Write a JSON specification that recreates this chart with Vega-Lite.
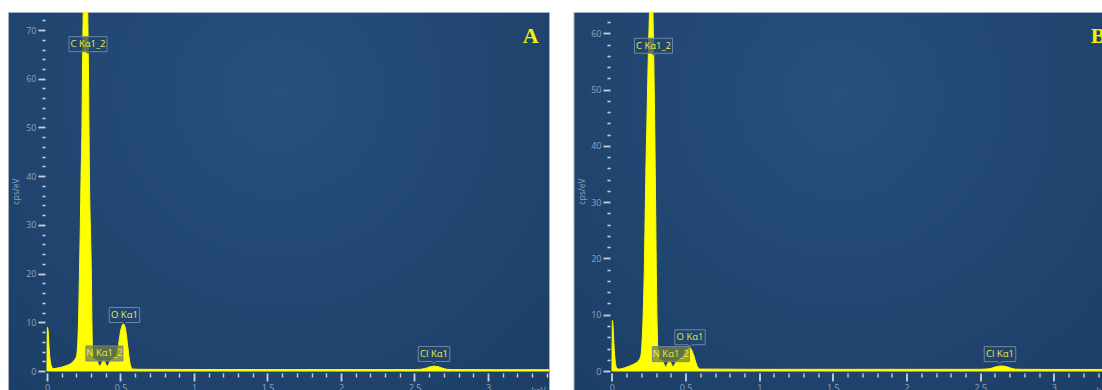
{
  "$schema": "https://vega.github.io/schema/vega-lite/v6.json",
  "background": "white",
  "padding": {"left": 7, "top": 11, "right": 0, "bottom": 0},
  "spacing": 22.5,
  "datasets": {
    "specA": [
      {"e":0,"c":0},{"e":0.003,"c":9.0},{"e":0.008,"c":8.3},{"e":0.014,"c":5},{"e":0.022,"c":2.2},{"e":0.032,"c":0.9},{"e":0.045,"c":0.5},{"e":0.07,"c":0.6},{"e":0.1,"c":0.8},{"e":0.13,"c":1.1},{"e":0.16,"c":1.5},{"e":0.185,"c":2.2},{"e":0.2,"c":3},{"e":0.21,"c":6},{"e":0.216,"c":12},{"e":0.221,"c":20},{"e":0.227,"c":30},{"e":0.232,"c":40},{"e":0.238,"c":50},{"e":0.241,"c":60},{"e":0.245,"c":70},{"e":0.251,"c":82},{"e":0.262,"c":92},{"e":0.273,"c":82},{"e":0.279,"c":70},{"e":0.283,"c":60},{"e":0.286,"c":50},{"e":0.289,"c":40},{"e":0.295,"c":30},{"e":0.302,"c":20},{"e":0.306,"c":10},{"e":0.31,"c":4},{"e":0.318,"c":2.4},{"e":0.335,"c":2.3},{"e":0.36,"c":1.0},{"e":0.385,"c":2.2},{"e":0.41,"c":1.0},{"e":0.435,"c":2.2},{"e":0.455,"c":2.5},{"e":0.47,"c":3},{"e":0.48,"c":4},{"e":0.49,"c":6},{"e":0.5,"c":8},{"e":0.512,"c":9.4},{"e":0.52,"c":9.7},{"e":0.53,"c":9.2},{"e":0.54,"c":7.5},{"e":0.55,"c":5},{"e":0.56,"c":2.5},{"e":0.57,"c":1},{"e":0.585,"c":0.4},{"e":0.62,"c":0.35},{"e":1,"c":0.32},{"e":1.5,"c":0.3},{"e":2,"c":0.3},{"e":2.5,"c":0.3},{"e":2.54,"c":0.35},{"e":2.57,"c":0.5},{"e":2.6,"c":0.8},{"e":2.63,"c":1.0},{"e":2.66,"c":0.9},{"e":2.69,"c":0.6},{"e":2.72,"c":0.35},{"e":2.76,"c":0.3},{"e":3,"c":0.28},{"e":3.42,"c":0.28}
    ],
    "specB": [
      {"e":0,"c":0},{"e":0.003,"c":9.0},{"e":0.008,"c":7.8},{"e":0.014,"c":4.5},{"e":0.022,"c":1.8},{"e":0.032,"c":0.6},{"e":0.045,"c":0.35},{"e":0.07,"c":0.45},{"e":0.1,"c":0.7},{"e":0.13,"c":1.0},{"e":0.16,"c":1.4},{"e":0.185,"c":2},{"e":0.198,"c":3},{"e":0.206,"c":6},{"e":0.212,"c":10},{"e":0.218,"c":16},{"e":0.224,"c":25},{"e":0.23,"c":35},{"e":0.238,"c":45},{"e":0.246,"c":55},{"e":0.253,"c":62},{"e":0.26,"c":68},{"e":0.267,"c":70},{"e":0.274,"c":68},{"e":0.281,"c":60},{"e":0.287,"c":50},{"e":0.292,"c":40},{"e":0.297,"c":28},{"e":0.302,"c":16},{"e":0.307,"c":8},{"e":0.313,"c":3},{"e":0.322,"c":2.0},{"e":0.34,"c":1.9},{"e":0.365,"c":0.8},{"e":0.39,"c":1.8},{"e":0.415,"c":0.8},{"e":0.44,"c":1.8},{"e":0.46,"c":2.0},{"e":0.48,"c":2.6},{"e":0.5,"c":3.4},{"e":0.515,"c":4},{"e":0.527,"c":4.2},{"e":0.54,"c":3.8},{"e":0.555,"c":2.8},{"e":0.57,"c":1.5},{"e":0.585,"c":0.6},{"e":0.6,"c":0.35},{"e":1,"c":0.3},{"e":1.5,"c":0.3},{"e":2,"c":0.3},{"e":2.5,"c":0.3},{"e":2.54,"c":0.35},{"e":2.57,"c":0.45},{"e":2.6,"c":0.7},{"e":2.643,"c":0.9},{"e":2.68,"c":0.75},{"e":2.71,"c":0.5},{"e":2.74,"c":0.33},{"e":2.78,"c":0.3},{"e":3,"c":0.28},{"e":3.35,"c":0.28}
    ],
    "labA": [
      {"label":"C Kα1_2","e":0.279,"c":67.1},{"label":"O Kα1","e":0.527,"c":11.5},{"label":"N Kα1_2","e":0.391,"c":3.6},{"label":"Cl Kα1","e":2.633,"c":3.5}
    ],
    "labB": [
      {"label":"C Kα1_2","e":0.282,"c":57.8},{"label":"O Kα1","e":0.53,"c":6.0},{"label":"N Kα1_2","e":0.40,"c":3.0},{"label":"Cl Kα1","e":2.634,"c":3.0}
    ],
    "letA": [{"t":"A","e":3.29,"c":68.8}],
    "letB": [{"t":"B","e":3.30,"c":59.5}]
  },
  "config": {
    "view": {
      "fill": {"gradient":"radial","x1":0.5,"y1":0.3,"r1":0,"x2":0.5,"y2":0.3,"r2":0.75,"stops":[{"offset":0,"color":"#27507d"},{"offset":1,"color":"#1c3e66"}]},
      "stroke": "#a3b0c2",
      "strokeWidth": 1
    },
    "axis": {
      "labelFont": "Open Sans",
      "labelFontSize": 9,
      "labelColor": "#8ea3bf",
      "tickColor": "#c5d1e0",
      "domain": false,
      "grid": false,
      "labelOverlap": false,
      "labelFlush": false,
      "titleFont": "Open Sans",
      "titleFontSize": 8.5,
      "titleFontWeight": "normal",
      "titleColor": "#8ea3bf"
    }
  },
  "hconcat": [
    {
      "width": 541,
      "height": 379,
      "encoding": {
        "x": {"field": "e", "type": "quantitative",
          "scale": {"domain": [-0.265, 3.415], "nice": false, "zero": false},
          "axis": {
            "values": [0,0.1,0.2,0.3,0.4,0.5,0.6,0.7,0.8,0.9,1,1.1,1.2,1.3,1.4,1.5,1.6,1.7,1.8,1.9,2,2.1,2.2,2.3,2.4,2.5,2.6,2.7,2.8,2.9,3,3.1,3.2,3.3,3.4],
            "format": "~g",
            "labelExpr": "abs(datum.value*2 - round(datum.value*2)) < 0.001 ? datum.label : ''",
            "tickSize": {"condition": {"test": "abs(datum.value*2 - round(datum.value*2)) < 0.001", "value": 8}, "value": 4},
            "tickWidth": {"condition": {"test": "abs(datum.value*2 - round(datum.value*2)) < 0.001", "value": 1.8}, "value": 1.4},
            "labelPadding": 2,
            "offset": -18,
            "title": "keV",
            "titleX": 523, "titleY": 13, "titleAlign": "left", "titleBaseline": "top"
          }},
        "y": {"field": "c", "type": "quantitative",
          "scale": {"domain": [-4.1, 73.7], "nice": false, "zero": false},
          "axis": {
            "values": [0,2,4,6,8,10,12,14,16,18,20,22,24,26,28,30,32,34,36,38,40,42,44,46,48,50,52,54,56,58,60,62,64,66,68,70,72],
            "labelExpr": "datum.value % 10 === 0 ? datum.label : ''",
            "tickSize": {"condition": {"test": "datum.value % 10 === 0", "value": 7}, "value": 3},
            "tickWidth": {"condition": {"test": "datum.value % 10 === 0", "value": 1.8}, "value": 1.6},
            "labelPadding": 2,
            "offset": -37,
            "title": "cps/eV",
            "titleX": -30, "titleY": 179, "titleAlign": "center", "titleBaseline": "middle", "titleAngle": 270
          }}
      },
      "layer": [
        {"data": {"name": "specA"}, "mark": {"type": "area", "color": "#ffff00", "stroke": "#ffff00", "strokeWidth": 1, "clip": true, "interpolate": "monotone"}},
        {"data": {"name": "labA"}, "mark": {"type": "point", "filled": true, "size": 1444, "stroke": "#6f86a6", "strokeWidth": 1, "opacity": 1, "fillOpacity": 0.75},
          "encoding": {
            "shape": {"field": "label", "type": "nominal", "legend": null,
              "scale": {"domain": ["C Kα1_2","O Kα1","N Kα1_2","Cl Kα1"],
                "range": ["M-1,-0.395H1V0.395H0.1L0,0.5L-0.1,0.395H-1Z","M-0.8,-0.395H0.8V0.395H0.1L0,0.5L-0.1,0.395H-0.8Z","M-0.974,-0.395H0.974V0.395H-0.974Z","M-0.83,-0.395H0.83V0.395H0.1L0,0.5L-0.1,0.395H-0.83Z"]}},
            "fill": {"condition": {"test": "datum.label === 'N Kα1_2'", "value": "#7a803a"}, "value": "#21466f"}
          }},
        {"data": {"name": "labA"}, "mark": {"type": "text", "font": "Open Sans", "fontSize": 9.5, "color": "#e0ec4c", "align": "center", "baseline": "middle"},
          "encoding": {"text": {"field": "label"}}},
        {"data": {"name": "letA"}, "mark": {"type": "text", "font": "Liberation Serif", "fontSize": 22, "fontWeight": "bold", "color": "#f2f200", "align": "center", "baseline": "middle"},
          "encoding": {"text": {"field": "t"}}}
      ]
    },
    {
      "width": 531.5,
      "height": 379,
      "encoding": {
        "x": {"field": "e", "type": "quantitative",
          "scale": {"domain": [-0.261, 3.347], "nice": false, "zero": false},
          "axis": {
            "values": [0,0.1,0.2,0.3,0.4,0.5,0.6,0.7,0.8,0.9,1,1.1,1.2,1.3,1.4,1.5,1.6,1.7,1.8,1.9,2,2.1,2.2,2.3,2.4,2.5,2.6,2.7,2.8,2.9,3,3.1,3.2,3.3],
            "format": "~g",
            "labelExpr": "abs(datum.value*2 - round(datum.value*2)) < 0.001 ? datum.label : ''",
            "tickSize": {"condition": {"test": "abs(datum.value*2 - round(datum.value*2)) < 0.001", "value": 8}, "value": 4},
            "tickWidth": {"condition": {"test": "abs(datum.value*2 - round(datum.value*2)) < 0.001", "value": 1.8}, "value": 1.4},
            "labelPadding": 2,
            "offset": -18,
            "title": "keV",
            "titleX": 522.5, "titleY": 13, "titleAlign": "left", "titleBaseline": "top"
          }},
        "y": {"field": "c", "type": "quantitative",
          "scale": {"domain": [-3.55, 63.8], "nice": false, "zero": false},
          "axis": {
            "values": [0,2,4,6,8,10,12,14,16,18,20,22,24,26,28,30,32,34,36,38,40,42,44,46,48,50,52,54,56,58,60,62],
            "labelExpr": "datum.value % 10 === 0 ? datum.label : ''",
            "tickSize": {"condition": {"test": "datum.value % 10 === 0", "value": 7}, "value": 3},
            "tickWidth": {"condition": {"test": "datum.value % 10 === 0", "value": 1.8}, "value": 1.6},
            "labelPadding": 2,
            "offset": -36.5,
            "title": "cps/eV",
            "titleX": -29, "titleY": 179, "titleAlign": "center", "titleBaseline": "middle", "titleAngle": 270
          }}
      },
      "layer": [
        {"data": {"name": "specB"}, "mark": {"type": "area", "color": "#ffff00", "stroke": "#ffff00", "strokeWidth": 1, "clip": true, "interpolate": "monotone"}},
        {"data": {"name": "labB"}, "mark": {"type": "point", "filled": true, "size": 1444, "stroke": "#6f86a6", "strokeWidth": 1, "opacity": 1, "fillOpacity": 0.75},
          "encoding": {
            "shape": {"field": "label", "type": "nominal", "legend": null,
              "scale": {"domain": ["C Kα1_2","O Kα1","N Kα1_2","Cl Kα1"],
                "range": ["M-1,-0.395H1V0.395H0.1L0,0.5L-0.1,0.395H-1Z","M-0.8,-0.395H0.8V0.395H0.1L0,0.5L-0.1,0.395H-0.8Z","M-0.974,-0.395H0.974V0.395H-0.974Z","M-0.83,-0.395H0.83V0.395H0.1L0,0.5L-0.1,0.395H-0.83Z"]}},
            "fill": {"condition": {"test": "datum.label === 'N Kα1_2'", "value": "#7a803a"}, "value": "#21466f"}
          }},
        {"data": {"name": "labB"}, "mark": {"type": "text", "font": "Open Sans", "fontSize": 9.5, "color": "#e0ec4c", "align": "center", "baseline": "middle"},
          "encoding": {"text": {"field": "label"}}},
        {"data": {"name": "letB"}, "mark": {"type": "text", "font": "Liberation Serif", "fontSize": 22, "fontWeight": "bold", "color": "#f2f200", "align": "center", "baseline": "middle"},
          "encoding": {"text": {"field": "t"}}}
      ]
    }
  ]
}
